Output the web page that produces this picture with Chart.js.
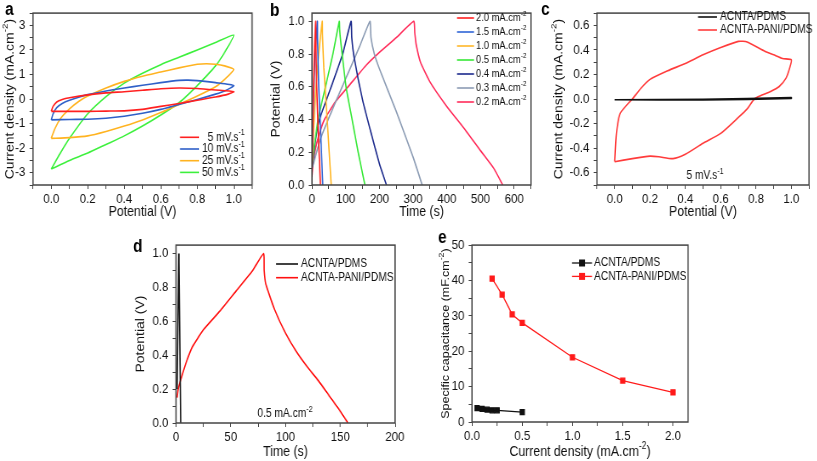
<!DOCTYPE html>
<html>
<head>
<meta charset="utf-8">
<script src="https://cdn.jsdelivr.net/npm/chart.js@4/dist/chart.umd.min.js"></script>
<style>
  body { margin: 0; background: #fff; }
  #fig { position: relative; width: 817px; height: 461px; overflow: hidden; }
  #fig canvas { position: absolute; transform-origin: 0 0; }
</style>
</head>
<body>
<div id="fig">
  <canvas id="pa"></canvas>
  <canvas id="pb"></canvas>
  <canvas id="pc"></canvas>
  <canvas id="pd"></canvas>
  <canvas id="pe"></canvas>
</div>
<script>
// (a) CV of ACNTA-PANI/PDMS at different scan rates: potential (V) / current density (mA.cm-2)
const cv5V  = [0, 0.01, 0.03, 0.06, 0.1, 0.2, 0.3, 0.4, 0.5, 0.6, 0.7, 0.8, 0.9, 1.0, 0.97, 0.9, 0.8, 0.7, 0.6, 0.5, 0.4, 0.3, 0.2, 0.1, 0];
const cv5I  = [-0.5, -0.3, -0.12, -0.02, 0.05, 0.17, 0.25, 0.3, 0.36, 0.42, 0.45, 0.43, 0.37, 0.3, 0.2, 0.08, -0.05, -0.18, -0.3, -0.42, -0.48, -0.49, -0.5, -0.5, -0.5];
const cv10V = [0, 0.01, 0.03, 0.06, 0.1, 0.2, 0.3, 0.4, 0.5, 0.6, 0.7, 0.75, 0.8, 0.9, 1.0, 0.95, 0.9, 0.8, 0.7, 0.6, 0.5, 0.4, 0.3, 0.2, 0.1, 0];
const cv10I = [-0.85, -0.6, -0.35, -0.18, -0.05, 0.18, 0.33, 0.45, 0.56, 0.67, 0.76, 0.77, 0.75, 0.67, 0.55, 0.33, 0.2, -0.02, -0.22, -0.42, -0.58, -0.7, -0.78, -0.82, -0.83, -0.85];
const cv25V = [0, 0.02, 0.05, 0.1, 0.15, 0.2, 0.3, 0.4, 0.5, 0.6, 0.7, 0.8, 0.85, 0.9, 0.95, 1.0, 0.95, 0.9, 0.8, 0.7, 0.6, 0.5, 0.4, 0.3, 0.2, 0.1, 0];
const cv25I = [-1.6, -1.2, -0.8, -0.4, -0.1, 0.12, 0.45, 0.72, 0.93, 1.1, 1.27, 1.42, 1.44, 1.42, 1.35, 1.2, 0.8, 0.5, 0.12, -0.22, -0.55, -0.85, -1.1, -1.32, -1.5, -1.57, -1.6];
const cv50V = [0, 0.05, 0.1, 0.2, 0.3, 0.4, 0.5, 0.6, 0.7, 0.8, 0.9, 1.0, 0.95, 0.9, 0.8, 0.7, 0.6, 0.5, 0.4, 0.3, 0.2, 0.1, 0];
const cv50I = [-2.85, -2.2, -1.6, -0.6, 0.1, 0.65, 1.05, 1.4, 1.7, 2.0, 2.3, 2.6, 1.9, 1.35, 0.55, -0.15, -0.65, -1.1, -1.5, -1.85, -2.2, -2.5, -2.85];

// (b) GCD curves at different current densities: time (s) / potential (V)
const gcd20T = [0, 3, 7, 11, 11.5, 14, 19, 25];
const gcd20V = [0.08, 0.45, 0.8, 1.0, 0.88, 0.6, 0.3, 0];
const gcd15T = [0, 3, 8, 16, 16.5, 20, 26, 32];
const gcd15V = [0.1, 0.4, 0.75, 1.0, 0.9, 0.6, 0.3, 0];
const gcd10T = [0, 5, 12, 20, 30.5, 31, 35, 45, 57];
const gcd10V = [0.1, 0.35, 0.6, 0.8, 1.0, 0.92, 0.72, 0.4, 0];
const gcd05T = [0, 18, 40, 62, 81, 82, 85, 101, 119, 137, 157];
const gcd05V = [0.13, 0.4, 0.6, 0.8, 1.0, 0.95, 0.88, 0.6, 0.4, 0.2, 0];
const gcd04T = [0, 10, 22, 57, 91, 116, 118, 125, 150, 175, 200, 221];
const gcd04V = [0.1, 0.27, 0.4, 0.6, 0.8, 1.0, 0.9, 0.78, 0.52, 0.32, 0.13, 0];
const gcd03T = [0, 25, 50, 100, 140, 172, 175, 185, 200, 250, 300, 327];
const gcd03V = [0.1, 0.28, 0.41, 0.65, 0.84, 1.0, 0.9, 0.8, 0.71, 0.45, 0.17, 0];
const gcd02T = [0, 3, 8, 20, 37, 70, 111, 160, 200, 250, 302, 305, 309, 322, 350, 400, 450, 500, 540, 566];
const gcd02V = [0.05, 0.13, 0.2, 0.3, 0.4, 0.51, 0.61, 0.73, 0.81, 0.9, 1.0, 0.93, 0.86, 0.75, 0.63, 0.48, 0.35, 0.21, 0.1, 0];

// (c) CV at 5 mV/s, both electrodes
const cvBareV = [0, 0.5, 1.0, 1.0, 0.5, 0];
const cvBareI = [-0.006, -0.003, 0.012, 0.004, -0.007, -0.006];
const cvPaniV = [0, 0.01, 0.03, 0.08, 0.1, 0.15, 0.2, 0.3, 0.4, 0.5, 0.6, 0.7, 0.75, 0.85, 0.9, 0.95, 1.0,
                 0.99, 0.97, 0.93, 0.88, 0.83, 0.79, 0.75, 0.7, 0.6, 0.5, 0.4, 0.33, 0.25, 0.2, 0.1, 0];
const cvPaniI = [-0.51, -0.28, -0.12, -0.03, 0.0, 0.09, 0.16, 0.23, 0.29, 0.36, 0.42, 0.47, 0.465, 0.39, 0.36, 0.33, 0.32,
                 0.25, 0.17, 0.1, 0.06, 0.03, 0.0, -0.08, -0.15, -0.28, -0.36, -0.45, -0.485, -0.47, -0.465, -0.485, -0.51];

// (d) GCD at 0.5 mA.cm-2, both electrodes
const gcdBareT = [1.0, 2.5, 2.7, 4.3];
const gcdBareV = [0.2, 1.0, 0.95, 0];
const gcdPaniT = [1, 2, 5, 10, 15, 25, 40, 55, 70, 80, 80.5, 82, 90, 100, 110, 120, 130, 140, 150, 157];
const gcdPaniV = [0.15, 0.2, 0.27, 0.37, 0.45, 0.55, 0.66, 0.78, 0.9, 1.0, 0.9, 0.82, 0.67, 0.53, 0.42, 0.33, 0.25, 0.16, 0.07, 0];

// (e) specific capacitance vs current density
const capBareJ = [0.05, 0.1, 0.15, 0.2, 0.25, 0.5];
const capBare  = [3.9, 3.7, 3.5, 3.3, 3.3, 2.8];
const capPaniJ = [0.2, 0.3, 0.4, 0.5, 1.0, 1.5, 2.0];
const capPani  = [40.5, 36, 30.4, 28, 18.3, 11.7, 8.4];

const S = 0.85; // the figure is squeezed horizontally
const FONT = '"Liberation Sans", Arial, sans-serif';

const pts = (xs, ys) => xs.map((x, i) => ({ x, y: ys[i] }));

function line(label, xs, ys, color, tension) {
  return { label, data: pts(xs, ys), showLine: true, borderColor: color, backgroundColor: color,
           borderWidth: 1.6, pointRadius: 0, tension: tension };
}

// text with ^{...} superscripts
function rich(ctx, str, x, y, size, align) {
  const parts = str.split(/\^\{([^}]*)\}/);
  const f = s => s + 'px ' + FONT;
  let w = 0;
  parts.forEach((p, i) => { ctx.font = f(i % 2 ? size * 0.7 : size); w += ctx.measureText(p).width; });
  let px = align === 'center' ? x - w / 2 : x;
  ctx.textAlign = 'left';
  ctx.textBaseline = 'middle';
  parts.forEach((p, i) => {
    const sup = i % 2;
    ctx.font = f(sup ? size * 0.7 : size);
    ctx.fillText(p, px, sup ? y - size * 0.38 : y);
    px += ctx.measureText(p).width;
  });
}

const decor = {
  id: 'decor',
  afterDraw(chart, args, o) {
    const ctx = chart.ctx, ca = chart.chartArea;
    const X = x => (x - o.cx) / S, Y = y => y - o.cy;
    ctx.save();
    ctx.strokeStyle = '#444';
    ctx.lineWidth = 1.5;
    ctx.strokeRect(ca.left, ca.top, ca.right - ca.left, ca.bottom - ca.top);

    ctx.fillStyle = '#000';
    ctx.font = 'bold 18px ' + FONT;
    ctx.textAlign = 'left';
    ctx.textBaseline = 'alphabetic';
    ctx.fillText(o.letter[0], X(o.letter[1]), Y(o.letter[2]));

    ctx.fillStyle = '#111';
    rich(ctx, o.xTitle, (ca.left + ca.right) / 2, Y(o.xTitleY), o.titleSize, 'center');
    ctx.save();
    ctx.translate(X(o.yTitleX), (ca.top + ca.bottom) / 2);
    ctx.rotate(-Math.PI / 2);
    rich(ctx, o.yTitle, 0, 0, o.yTitleSize || o.titleSize, 'center');
    ctx.restore();

    if (o.note) rich(ctx, o.note[0], X(o.note[1]), Y(o.note[2]), 12, 'center');

    const lg = o.legend;
    chart.data.datasets.forEach((ds, i) => {
      const y = Y(lg.y + i * lg.dy);
      ctx.strokeStyle = ds.borderColor;
      ctx.lineWidth = ds.borderWidth;
      ctx.beginPath();
      ctx.moveTo(X(lg.x0), y);
      ctx.lineTo(X(lg.x1), y);
      ctx.stroke();
      if (ds.pointRadius > 0) {
        ctx.fillStyle = ds.backgroundColor;
        const r = ds.pointRadius;
        ctx.fillRect((X(lg.x0) + X(lg.x1)) / 2 - r, y - r, 2 * r, 2 * r);
      }
      ctx.fillStyle = '#111';
      rich(ctx, ds.label, X(lg.tx), y, lg.size || 12, 'left');
    });
    ctx.restore();
  }
};

function axis(min, max, step, major, dec, lo, hi, fit) {
  return {
    type: 'linear', min, max,
    ticks: {
      stepSize: step, autoSkip: false, maxRotation: 0, includeBounds: false,
      color: '#111', font: { size: 13.5, family: FONT }, padding: 5,
      callback: v => {
        const k = v / major;
        return Math.abs(k - Math.round(k)) < 1e-6 && v >= lo - 1e-9 && v <= hi + 1e-9 ? v.toFixed(dec) : '';
      }
    },
    grid: { drawOnChartArea: false, tickLength: 4, color: '#444', lineWidth: 1 },
    border: { display: false },
    afterFit: fit
  };
}

function panel(id, box, frame, xAxis, yAxis, datasets, deco) {
  const [cx, cy, cw, ch] = box;
  const [L, T, R, B] = frame;
  const canvas = document.getElementById(id);
  canvas.width = Math.round(cw / S);
  canvas.height = ch;
  canvas.style.left = cx + 'px';
  canvas.style.top = cy + 'px';
  canvas.style.transform = 'scaleX(' + S + ')';
  const xs = axis(...xAxis, s => { s.height = cy + ch - B; });
  xs.ticks.padding = 2;
  const ys = axis(...yAxis, s => { s.width = (L - cx) / S; });
  return new Chart(canvas, {
    type: 'scatter',
    data: { datasets },
    options: {
      responsive: false, animation: false, devicePixelRatio: 1,
      layout: { padding: { left: 0, bottom: 0, top: T - cy, right: canvas.width - (R - cx) / S } },
      plugins: { legend: { display: false }, tooltip: { enabled: false },
                 decor: Object.assign({ cx, cy, titleSize: 14.5, yTitleSize: 14 }, deco) },
      scales: { x: xs, y: ys }
    },
    plugins: [decor]
  });
}

panel('pa', [0, 0, 266, 228], [33, 9, 252, 185],
  [-0.1, 1.1, 0.1, 0.2, 1, 0, 1], [-3.5, 3.5, 0.5, 1, 0, -3, 3],
  [
    line('  5 mV.s^{-1}', cv5V, cv5I, '#ff2020', 0.2),
    line('10 mV.s^{-1}', cv10V, cv10I, '#2f60c8', 0.2),
    line('25 mV.s^{-1}', cv25V, cv25I, '#ffb320', 0.2),
    line('50 mV.s^{-1}', cv50V, cv50I, '#3cf03c', 0.2)
  ],
  { letter: ['a', 5, 15], xTitle: 'Potential (V)', xTitleY: 212, yTitle: 'Current density (mA.cm^{-2})', yTitleX: 10,
    legend: { x0: 180, x1: 199, tx: 202, y: 137.3, dy: 11.7 } });

panel('pb', [266, 0, 272, 228], [312, 9, 531, 185],
  [0, 650, 50, 100, 0, 0, 600], [0, 1.05, 0.1, 0.2, 1, 0, 1],
  [
    line('2.0 mA.cm^{-2}', gcd20T, gcd20V, '#ff1f1f', 0.15),
    line('1.5 mA.cm^{-2}', gcd15T, gcd15V, '#2e64d6', 0.15),
    line('1.0 mA.cm^{-2}', gcd10T, gcd10V, '#ffb727', 0.15),
    line('0.5 mA.cm^{-2}', gcd05T, gcd05V, '#35e835', 0.15),
    line('0.4 mA.cm^{-2}', gcd04T, gcd04V, '#1c2a8c', 0.15),
    line('0.3 mA.cm^{-2}', gcd03T, gcd03V, '#8c9cb4', 0.15),
    line('0.2 mA.cm^{-2}', gcd02T, gcd02V, '#ff2c5a', 0.15)
  ],
  { letter: ['b', 270, 16], xTitle: 'Time (s)', xTitleY: 212, yTitle: 'Potential (V)', yTitleX: 276,
    legend: { x0: 457, x1: 474, tx: 476, y: 18, dy: 14, size: 11 } });

panel('pc', [536, 0, 281, 228], [597, 10, 809, 185],
  [-0.1, 1.1, 0.1, 0.2, 1, 0, 1], [-0.7, 0.7, 0.1, 0.2, 1, -0.6, 0.6],
  [
    line('ACNTA/PDMS', cvBareV, cvBareI, '#111111', 0.2),
    line('ACNTA-PANI/PDMS', cvPaniV, cvPaniI, '#ff3b3b', 0.2)
  ],
  { letter: ['c', 541, 15], xTitle: 'Potential (V)', xTitleY: 212, yTitle: 'Current density (mA.cm^{-2})', yTitleX: 559,
    legend: { x0: 698, x1: 717, tx: 720, y: 17, dy: 13 }, note: ['5 mV.s^{-1}', 705, 176] });

panel('pd', [128, 232, 280, 229], [176, 245, 395, 423],
  [0, 200, 25, 50, 0, 0, 200], [0, 1.05, 0.1, 0.2, 1, 0, 1],
  [
    line('ACNTA/PDMS', gcdBareT, gcdBareV, '#111111', 0),
    line('ACNTA-PANI/PDMS', gcdPaniT, gcdPaniV, '#ff1010', 0.15)
  ],
  { letter: ['d', 133, 252], xTitle: 'Time (s)', xTitleY: 452, yTitle: 'Potential (V)', yTitleX: 141,
    legend: { x0: 276, x1: 298, tx: 301, y: 264, dy: 13.7 }, note: ['0.5 mA.cm^{-2}', 285, 414] });

const eBare = line('ACNTA/PDMS', capBareJ, capBare, '#111111', 0);
const ePani = line('ACNTA-PANI/PDMS', capPaniJ, capPani, '#ff1a1a', 0);
[eBare, ePani].forEach(d => { d.pointRadius = 3.5; d.pointStyle = 'rect'; d.borderWidth = 1.3; });

panel('pe', [420, 232, 290, 229], [472, 245, 688, 422],
  [0, 2.15, 0.25, 0.5, 1, 0, 2], [0, 50, 5, 10, 0, 0, 50],
  [eBare, ePani],
  { letter: ['e', 438, 243], xTitle: 'Current density (mA.cm^{-2})', xTitleY: 452,
    yTitle: 'Specific capacitance (mF.cm^{-2})', yTitleX: 446, yTitleSize: 12.5,
    legend: { x0: 572, x1: 592, tx: 594, y: 263, dy: 13.4 } });
</script>
</body>
</html>
